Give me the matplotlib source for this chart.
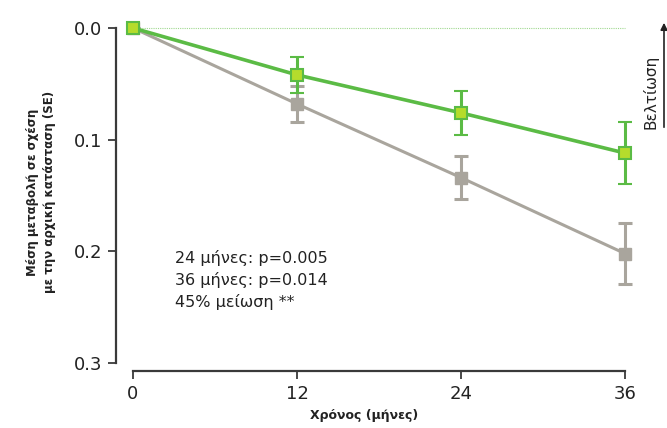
import matplotlib
matplotlib.use("Agg")
import matplotlib.pyplot as plt

months = [0, 12, 24, 36]
green_vals = [0.0, 0.042, 0.076, 0.112]
green_se = [0.0, 0.016, 0.020, 0.028]
gray_vals = [0.0, 0.068, 0.134, 0.202]
gray_se = [0.0, 0.016, 0.019, 0.027]
yticks = [0.0, 0.1, 0.2, 0.3]
ytick_labels = ["0.0", "0.1", "0.2", "0.3"]
annot_lines = ["24 μήνες: p=0.005", "36 μήνες: p=0.014", "45% μείωση **"]

plt.rcParams['font.family'] = ['DejaVu Sans']

fig = plt.figure(figsize=(6.67, 4.28), dpi=100)
ax = fig.add_axes([133/667, 1-363/428, (625-133)/667, (363-28)/428])

green = '#5bbb45'
gray = '#a9a59d'

ax.plot([0, 36], [0, 0], color='#9fd88f', lw=0.8, ls=(0, (1, 1)), zorder=1, clip_on=False)

ax.errorbar(months, gray_vals, yerr=gray_se, color=gray, lw=2.2, marker='s', ms=9,
            mfc=gray, mec=gray, ecolor=gray, elinewidth=2.2, capsize=5, capthick=2.2,
            clip_on=False, zorder=3)
ax.errorbar(months, green_vals, yerr=green_se, color=green, lw=2.6, marker='s', ms=9,
            mfc='#b5dc2c', mec=green, mew=1.5, ecolor=green, elinewidth=2.2, capsize=5, capthick=2.2,
            clip_on=False, zorder=4)

ax.set_xlim(0, 36)
ax.set_ylim(0.3, 0.0)
ax.set_xticks(months)
ax.set_xticklabels([str(m) for m in months])
ax.set_yticks(yticks)
ax.set_yticklabels(ytick_labels)

for s in ['top', 'right']:
    ax.spines[s].set_visible(False)
ax.spines['left'].set_position(('outward', 12))
ax.spines['bottom'].set_position(('outward', 6))
for s in ['left', 'bottom']:
    ax.spines[s].set_linewidth(1.6)
    ax.spines[s].set_color('#3a3a3a')
ax.tick_params(axis='both', direction='out', length=6, width=1.3, color='#3a3a3a',
               labelsize=13, labelcolor='#222222')
ax.tick_params(axis='y', pad=4)
ax.tick_params(axis='x', pad=4)

fig.text(364/667, 1-415/428, "Χρόνος (μήνες)", fontsize=9, fontweight='bold', color='#222222',
         ha='center', va='center')
fig.text(41/667, 1-192/428, "Μέση μεταβολή σε σχέση\nμε την αρχική κατάσταση (SE)", fontsize=8.5,
         fontweight='bold', color='#222222', rotation=90, ha='center', va='center',
         multialignment='center', linespacing=1.35)

for i, t in enumerate(annot_lines):
    fig.text(175/667, 1-(258+22*i)/428, t, fontsize=11.5, color='#222222', va='center', ha='left')

fig.text(651/667, 1-92/428, "Βελτίωση", rotation=90, fontsize=11, color='#222222', va='center', ha='center')
fig.add_artist(matplotlib.patches.FancyArrowPatch((664/667, 1-130/428), (664/667, 1-20/428),
               transform=fig.transFigure, arrowstyle='-|>', mutation_scale=10, color='#222222', lw=1.2))

fig.savefig("out.png", dpi=100)
